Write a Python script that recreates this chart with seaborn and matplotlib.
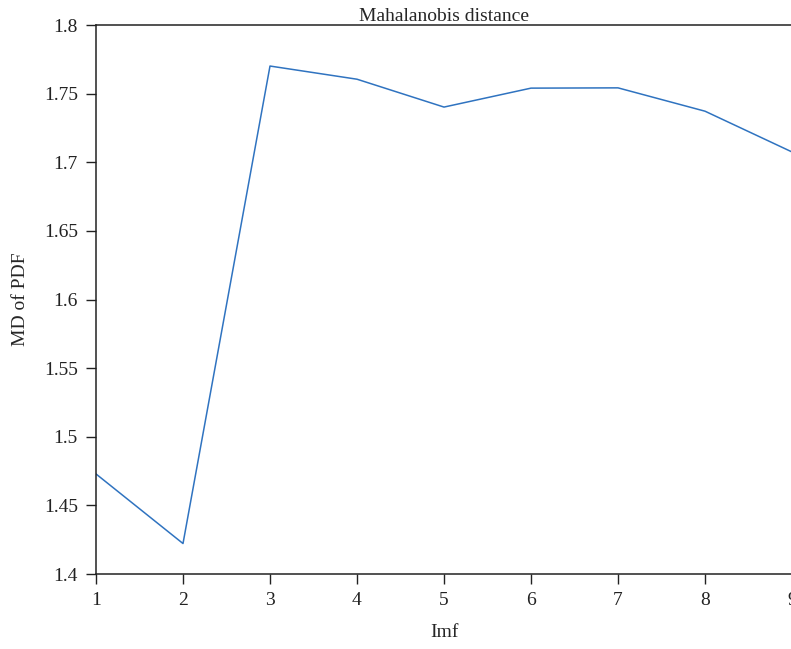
import numpy as np
import pandas as pd
import matplotlib
matplotlib.use('Agg')
import matplotlib.pyplot as plt
import seaborn as sns

# data
imf = [1, 2, 3, 4, 5, 6, 7, 8, 9]
md_pdf = [1.4729, 1.4222, 1.7701, 1.7605, 1.7402, 1.7540, 1.7542, 1.7372, 1.7075]

df = pd.DataFrame({'Imf': imf, 'MD of PDF': md_pdf})

sns.set_style('ticks')
plt.rcParams['font.family'] = ['Liberation Serif', 'DejaVu Serif']

fig = plt.figure(figsize=(7.91, 6.49), dpi=100)
ax = fig.add_axes([96 / 791, 1 - 574 / 649, 696 / 791, 549 / 649])

sns.lineplot(data=df, x='Imf', y='MD of PDF', ax=ax, color='#2f73c0', linewidth=1.1)

ax.set_xlim(1, 9)
ax.set_ylim(1.4, 1.8)
ax.set_xticks(range(1, 10))
ax.set_yticks([1.4, 1.45, 1.5, 1.55, 1.6, 1.65, 1.7, 1.75, 1.8])
ax.set_yticklabels(['1.4', '1.45', '1.5', '1.55', '1.6', '1.65', '1.7', '1.75', '1.8'])
ax.tick_params(direction='out', length=7, width=1, labelsize=14, colors='#222222', pad=6)
for side in ['left', 'bottom', 'top']:
    ax.spines[side].set_color('#222222')
    ax.spines[side].set_linewidth(1.1)
ax.spines['right'].set_visible(False)

ax.set_title('Mahalanobis distance', fontsize=14, pad=3)
ax.set_xlabel('Imf', fontsize=14, labelpad=11)
ax.set_ylabel('MD of PDF', fontsize=14, labelpad=11)

fig.savefig('out.png', dpi=100)
